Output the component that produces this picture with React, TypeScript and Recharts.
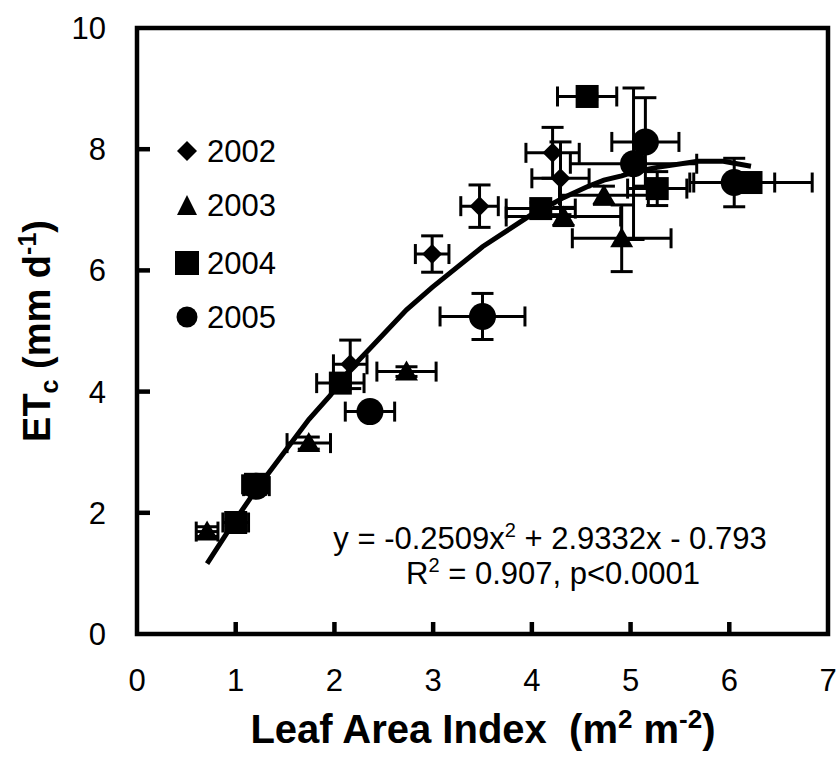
import React from 'react';
import { ScatterChart, Scatter, XAxis, YAxis, ErrorBar, ReferenceArea } from 'recharts';

const xTicks = [0, 1, 2, 3, 4, 5, 6, 7];
const yTicks = [0, 2, 4, 6, 8, 10];
const years = ['2002', '2003', '2004', '2005'];

const s2002 = [
  { x: 2.16, y: 4.45, ex: 0.17, ey: 0.4 },
  { x: 2.99, y: 6.27, ex: 0.17, ey: 0.3 },
  { x: 3.47, y: 7.06, ex: 0.19, ey: 0.35 },
  { x: 4.21, y: 7.94, ex: 0.27, ey: 0.42 },
  { x: 4.29, y: 7.52, ex: 0.29, ey: 0.6 },
];
const s2003 = [
  { x: 0.71, y: 1.69, ex: 0.11, ey: 0.08 },
  { x: 1.74, y: 3.15, ex: 0.22, ey: 0.1 },
  { x: 2.73, y: 4.33, ex: 0.3, ey: 0.08 },
  { x: 4.32, y: 6.89, ex: 0.58, ey: 0.15 },
  { x: 4.73, y: 7.24, ex: 0.45, ey: 0.15 },
  { x: 4.91, y: 6.53, ex: 0.5, ey: 0.55 },
];
const s2004 = [
  { x: 1.0, y: 1.84, ex: 0.13, ey: 0.05 },
  { x: 1.2, y: 2.47, ex: 0.13, ey: 0.1 },
  { x: 2.06, y: 4.14, ex: 0.24, ey: 0.1 },
  { x: 4.09, y: 7.02, ex: 0.35, ey: 0.1 },
  { x: 4.56, y: 8.87, ex: 0.3, ey: 0.05 },
  { x: 5.27, y: 7.35, ex: 0.3, ey: 0.28 },
  { x: 6.22, y: 7.45, ex: 0.62, ey: 0.1 },
];
const s2005 = [
  { x: 1.21, y: 2.44, ex: 0.13, ey: 0.1 },
  { x: 2.36, y: 3.67, ex: 0.25, ey: 0.08 },
  { x: 3.5, y: 5.24, ex: 0.43, ey: 0.38 },
  { x: 5.03, y: 7.76, ex: 0.64, ey: 1.25 },
  { x: 5.15, y: 8.12, ex: 0.34, ey: 0.73 },
  { x: 6.05, y: 7.45, ex: 0.41, ey: 0.4 },
];
const fitLine = [
  { x: 0.71, y: 1.16 }, { x: 1.0, y: 1.89 }, { x: 1.21, y: 2.39 }, { x: 1.74, y: 3.54 },
  { x: 1.96, y: 3.94 }, { x: 2.16, y: 4.37 }, { x: 2.36, y: 4.71 }, { x: 2.73, y: 5.35 },
  { x: 2.99, y: 5.72 }, { x: 3.47, y: 6.35 }, { x: 3.5, y: 6.39 }, { x: 4.09, y: 7.02 },
  { x: 4.21, y: 7.1 }, { x: 4.32, y: 7.2 }, { x: 4.56, y: 7.38 }, { x: 4.73, y: 7.49 },
  { x: 4.91, y: 7.56 }, { x: 5.03, y: 7.62 }, { x: 5.15, y: 7.66 }, { x: 5.27, y: 7.7 },
  { x: 5.68, y: 7.8 }, { x: 5.94, y: 7.8 }, { x: 6.22, y: 7.72 },
];

const FONT = '"Liberation Sans", Arial, sans-serif';
const AXIS_X = 137;
const AXIS_Y = 634;

const Diamond = (p: any) => {
  const { cx, cy } = p;
  const r = 10;
  return <path d={`M${cx},${cy - r}L${cx + r},${cy}L${cx},${cy + r}L${cx - r},${cy}Z`} fill="#000" />;
};
const Triangle = (p: any) => {
  const { cx, cy } = p;
  return <path d={`M${cx},${cy - 11}L${cx + 11.5},${cy + 9}L${cx - 11.5},${cy + 9}Z`} fill="#000" />;
};
const Square = (p: any) => {
  const { cx, cy } = p;
  return <rect x={cx - 11.5} y={cy - 11.5} width={23} height={23} fill="#000" />;
};
const Circle = (p: any) => {
  const { cx, cy } = p;
  return <circle cx={cx} cy={cy} r={13.5} fill="#000" />;
};
const NoShape = () => <g />;

const YTick = (p: any) => {
  const { y, payload } = p;
  const v = payload.value;
  return (
    <g>
      {v !== 0 && v !== 10 && (
        <line x1={AXIS_X} x2={AXIS_X + 13} y1={y} y2={y} stroke="#000" strokeWidth={4.5} />
      )}
      <text x={106} y={y + 11} textAnchor="end" fontFamily={FONT} fontSize={31} fill="#000">
        {v}
      </text>
    </g>
  );
};
const XTick = (p: any) => {
  const { x, payload } = p;
  const v = payload.value;
  return (
    <g>
      {v !== 0 && v !== 7 && (
        <line x1={x} x2={x} y1={AXIS_Y} y2={AXIS_Y - 12} stroke="#000" strokeWidth={4.5} />
      )}
      <text x={x} y={691} textAnchor="middle" fontFamily={FONT} fontSize={31} fill="#000">
        {v}
      </text>
    </g>
  );
};

const legendShapes = [
  (cx: number, cy: number) => <path d={`M${cx},${cy - 10}L${cx + 10},${cy}L${cx},${cy + 10}L${cx - 10},${cy}Z`} fill="#000" />,
  (cx: number, cy: number) => <path d={`M${cx},${cy - 10}L${cx + 10},${cy + 10}L${cx - 10},${cy + 10}Z`} fill="#000" />,
  (cx: number, cy: number) => <rect x={cx - 12} y={cy - 12} width={24} height={24} fill="#000" />,
  (cx: number, cy: number) => <circle cx={cx} cy={cy} r={10.5} fill="#000" />,
];
const legendY = [151, 205, 263, 317];

export default function App() {
  const eb = { stroke: '#000', strokeWidth: 3 };
  return (
    <div style={{ position: 'absolute', left: 0, top: 0, width: 837, height: 760, background: '#fff' }}>
      <ScatterChart width={837} height={760} margin={{ top: 28, right: 9, left: 0, bottom: 0 }}>
        <XAxis
          type="number"
          dataKey="x"
          domain={[0, 7]}
          ticks={xTicks}
          height={126}
          tickSize={0}
          tickLine={false}
          axisLine={false}
          tick={<XTick />}
          interval={0}
          allowDataOverflow
        />
        <YAxis
          type="number"
          dataKey="y"
          domain={[0, 10]}
          ticks={yTicks}
          width={137}
          tickSize={0}
          tickLine={false}
          axisLine={false}
          tick={<YTick />}
          interval={0}
          allowDataOverflow
        />
        <ReferenceArea x1={0} x2={7} y1={0} y2={10} fill="none" stroke="#000" strokeWidth={4.5} ifOverflow="visible" />
        <Scatter data={fitLine} line={{ stroke: '#000', strokeWidth: 5 }} shape={NoShape} isAnimationActive={false} />
        <Scatter data={s2002} shape={Diamond} isAnimationActive={false}>
          <ErrorBar dataKey="ex" direction="x" width={10} {...eb} />
          <ErrorBar dataKey="ey" direction="y" width={11} {...eb} />
        </Scatter>
        <Scatter data={s2003} shape={Triangle} isAnimationActive={false}>
          <ErrorBar dataKey="ex" direction="x" width={10} {...eb} />
          <ErrorBar dataKey="ey" direction="y" width={11} {...eb} />
        </Scatter>
        <Scatter data={s2004} shape={Square} isAnimationActive={false}>
          <ErrorBar dataKey="ex" direction="x" width={10} {...eb} />
          <ErrorBar dataKey="ey" direction="y" width={11} {...eb} />
        </Scatter>
        <Scatter data={s2005} shape={Circle} isAnimationActive={false}>
          <ErrorBar dataKey="ex" direction="x" width={10} {...eb} />
          <ErrorBar dataKey="ey" direction="y" width={11} {...eb} />
        </Scatter>
      </ScatterChart>
      <svg width={837} height={760} style={{ position: 'absolute', left: 0, top: 0, pointerEvents: 'none' }}>
        {years.map((yr, i) => (
          <g key={yr}>
            {legendShapes[i](187, legendY[i])}
            <text x={207} y={legendY[i] + 11} fontFamily={FONT} fontSize={31} fill="#000">
              {yr}
            </text>
          </g>
        ))}
        <text x={550} y={549} textAnchor="middle" fontFamily={FONT} fontSize={31} fill="#000">
          y = -0.2509x<tspan dy={-12} fontSize={20}>2</tspan>
          <tspan dy={12}> + 2.9332x - 0.793</tspan>
        </text>
        <text x={553} y={584} textAnchor="middle" fontFamily={FONT} fontSize={31} fill="#000">
          R<tspan dy={-12} fontSize={20}>2</tspan>
          <tspan dy={12}> = 0.907, p&lt;0.0001</tspan>
        </text>
        <text x={483} y={743} textAnchor="middle" fontFamily={FONT} fontSize={40} fontWeight="bold" fill="#000">
          Leaf Area Index{'\u00a0\u00a0'}(m<tspan dy={-15} fontSize={26}>2</tspan>
          <tspan dy={15}> m</tspan>
          <tspan dy={-15} fontSize={26}>-2</tspan>
          <tspan dy={15}>)</tspan>
        </text>
        <text
          transform="translate(50,331) rotate(-90)"
          x={0}
          y={0}
          textAnchor="middle"
          fontFamily={FONT}
          fontSize={38}
          fontWeight="bold"
          fill="#000"
        >
          ET<tspan dy={8} fontSize={25}>c</tspan>
          <tspan dy={-8}> (mm d</tspan>
          <tspan dy={-14} fontSize={25}>-1</tspan>
          <tspan dy={14}>)</tspan>
        </text>
      </svg>
    </div>
  );
}
